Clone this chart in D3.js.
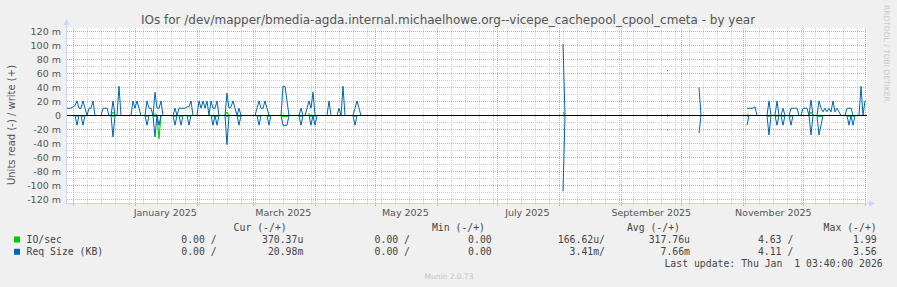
<!DOCTYPE html>
<html><head><meta charset="utf-8">
<script src="https://cdn.jsdelivr.net/npm/d3@7"></script>
<style>body{margin:0;background:#f0f0f0;}svg{display:block}</style>
</head><body><div id="chart"></div>
<script>
// ---------- data ----------
const DAY = 86400000;
const graphStart = Date.UTC(2024, 10, 27, 20, 24);
const graphDays = 400;
const titleText = "IOs for /dev/mapper/bmedia-agda.internal.michaelhowe.org--vicepe_cachepool_cpool_cmeta - by year";
const yAxisLabel = "Units read (-) / write (+)";
const yMajorTicks = [-120, -100, -80, -60, -40, -20, 0, 20, 40, 60, 80, 100, 120];
const yMinorTicks = [-110, -90, -70, -50, -30, -10, 10, 30, 50, 70, 90, 110];
const monthLabelDates = ["2025-01-01", "2025-03-01", "2025-05-01", "2025-07-01", "2025-09-01", "2025-11-01"];
const monthLabels = ["January 2025", "March 2025", "May 2025", "July 2025", "September 2025", "November 2025"];
const seriesNames = ["IO/sec", "Req Size (KB)"];
const seriesColors = ["#00cc00", "#0066b3"];
const legendHeaders = ["Cur (-/+)", "Min (-/+)", "Avg (-/+)", "Max (-/+)"];
const ioLegend = ["0.00 /", "370.37u", "0.00 /", "0.00", "166.62u/", "317.76u", "4.63 /", "1.99"];
const reqLegend = ["0.00 /", "20.98m", "0.00 /", "0.00", "3.41m/", "7.66m", "4.11 /", "3.56"];
const lastUpdate = "Last update: Thu Jan  1 03:40:00 2026";

// daily values in milli-units, per segment of continuous data (day offset from graph start)
const segmentStartDay = [0, 248, 300, 316, 340];
const reqWrite = [
  [10.4,10.4,10.4,12.5,14,20.8,10.4,10.4,20.8,10.4,
   0,10.4,10.4,20.8,0,0,0,0,10.4,10.4,
   10.4,0,0,20.8,0,0,41.7,0,0,0,
   0,0,0,20.8,10.4,20.8,10.4,0,0,0,
   20.8,10.4,10.4,0,33.3,10.4,10.4,20.8,0,0,
   0,0,0,0,10.4,0,10.4,10.4,10.4,10.4,
   12.5,12.5,20.8,0,0,0,20.8,10.4,20.8,10.4,
   20.8,0,20.8,10.4,10.4,20.8,0,0,0,0,
   32,10.4,12.5,20.8,10.4,0,10.4,0,0,0,
   0,0,0,0,0,10.4,20.8,10.4,10.4,20.8,
   10.4,0,0,0,0,0,0,0,41.7,41.7,
   20.8,0,0,0,0,0,0,10.4,0,0,
   10.4,20.8,10.4,33.3,0,0,0,0,0,0,
   0,20.8,0,0,0,0,10.4,0,41.7,0,
   0,0,0,0,10.4,20.8,10.4,0],
  [102, 0],
  [64],
  [40, 0],
  [10.4,10.4,10.4,10.4,12.5,0,0,0,0,0,
   0,20.8,0,0,0,20.8,0,0,10.4,0,
   0,0,10.4,10.4,10.4,10.4,0,0,10.4,10.4,
   10.4,0,22.2,0,0,0,20.8,10.4,5.2,10.4,
   5.2,10.4,5.2,20.8,5.2,10.4,5.2,0,0,0,
   10.4,10.4,10.4,0,0,0,0,41.7,0,20.8]
];
const reqRead = [
  [0,0,0,0,0,13.9,0,0,13.9,0,
   0,0,0,0,0,0,0,0,0,0,
   0,0,0,30.6,0,0,0,0,0,0,
   0,0,0,0,0,0,0,0,0,0,
   13.9,0,0,0,30.6,0,13.9,0,0,0,
   0,0,0,0,13.9,0,0,13.9,0,0,
   0,13.9,0,0,0,0,0,0,0,0,
   0,0,0,13.9,0,13.9,0,0,0,0,
   41.7,0,0,0,0,0,13.9,0,0,0,
   0,0,0,0,0,0,13.9,0,0,0,
   0,13.9,0,0,0,0,0,0,13.9,13.9,
   13.9,0,0,0,0,0,0,13.9,0,0,
   0,0,13.9,0,13.9,0,0,0,0,0,
   0,0,0,0,0,0,0,0,0,0,
   0,0,0,0,13.9,0,0,0],
  [108.3, 0],
  [20.8],
  [25, 0],
  [13.9,0,0,0,0,0,0,0,0,0,
   0,27.8,0,0,0,13.9,0,0,13.9,0,
   0,0,13.9,0,0,0,0,0,0,0,
   0,0,27.8,0,0,0,27.8,13.9,0,0,
   0,0,0,0,0,0,0,0,0,0,
   0,13.9,0,13.9,0,0,0,0,0,0]
];
const ioWrite = [
  [0,0,0,0,0,0,0,0,0,0,
   0,0,0,0,0,0,0,0,0,0,
   0,0,0,5,0,0,0,0,0,0,
   0,0,0,0,0,0,0,0,0,0,
   0,0,0,0,3,0,0,0,0,0,
   0,0,0,0,0,0,0,0,0,0,
   0,0,0,0,0,0,0,0,0,0,
   0,0,0,0,0,0,0,0,0,0,
   5,0,0,0,0,0,0,0,0,0,
   0,0,0,0,0,0,0,0,0,0,
   0,0,0,0,0,0,0,0,0,0,
   0,0,0,0,0,0,0,0,0,0,
   0,3,0,0,0,0,0,0,0,0,
   0,0,0,0,0,0,0,0,0,0,
   0,0,0,0,0,0,0,0],
  [5, 0],
  [1.0],
  [0, 0],
  [3,0,0,0,0,0,0,0,0,0,
   0,0,0,0,0,0,0,0,0,0,
   0,0,0,0,0,0,0,0,0,0,
   0,0,5,0,0,0,0,0,0,0,
   0,0,0,0,0,0,0,0,0,0,
   0,0,0,0,0,0,0,0,0,0]
];
const ioRead = [
  [0,0,0,0,0,1.4,0,0,1.4,0,
   0,0,0,0,0,0,0,0,0,0,
   0,0,0,1.4,0,0,0,0,0,0,
   0,0,0,0,0,0,0,0,0,0,
   1.4,0,0,0,1.4,0,33.3,0,0,0,
   0,0,0,0,1.4,0,0,1.4,0,0,
   0,1.4,0,0,0,0,0,0,0,0,
   0,0,0,1.4,0,1.4,0,0,0,0,
   1.4,0,0,0,0,0,1.4,0,0,0,
   0,0,0,0,0,0,1.4,0,0,0,
   0,1.4,0,0,0,0,0,0,1.4,1.4,
   1.4,0,0,0,0,0,0,1.4,0,0,
   0,0,1.4,0,1.4,0,0,0,0,0,
   0,0,0,0,0,0,0,0,0,0,
   0,0,0,0,1.4,0,0,0],
  [1.0, 0],
  [1.0],
  [1.0, 0],
  [1.4,0,0,0,0,0,0,0,0,0,
   0,1.4,0,0,0,1.4,0,0,1.4,0,
   0,0,1.4,0,0,0,0,0,0,0,
   0,0,0,0,0,0,1.4,1.4,0,0,
   0,0,0,0,0,0,0,0,0,0,
   0,1.4,0,1.4,0,0,0,0,0,0]
];

// ---------- chart ----------
const W = 897, H = 287;
const svg = d3.select("#chart").append("svg").attr("width", W).attr("height", H);
svg.append("rect").attr("width", W).attr("height", H).attr("fill", "#f0f0f0");

const x = d3.scaleUtc().domain([graphStart, graphStart + graphDays * DAY]).range([67, 867]);
const y = d3.scaleLinear().domain([-125, 125]).range([203, 28]);
const [px0, px1] = x.range();
const [py0, py1] = y.range(); // bottom, top

svg.append("rect").attr("x", px0).attr("y", py1).attr("width", px1 - px0).attr("height", py0 - py1).attr("fill", "#ffffff");

const snap = v => Math.round(v - 0.5) + 0.5;
const minorCol = "#cfcfcf", majorCol = "#e3a6a6";

// horizontal grid
svg.append("g").selectAll("line").data(yMinorTicks).join("line")
  .attr("x1", px0).attr("x2", px1).attr("y1", d => snap(y(d))).attr("y2", d => snap(y(d)))
  .attr("stroke", minorCol).attr("stroke-dasharray", "1,1");
svg.append("g").selectAll("line").data(yMajorTicks).join("line")
  .attr("x1", px0).attr("x2", px1).attr("y1", d => snap(y(d))).attr("y2", d => snap(y(d)))
  .attr("stroke", majorCol).attr("stroke-dasharray", "1,1");

// vertical grid
const [d0, d1] = x.domain();
const weeks = d3.utcSunday.range(d0, d1);
const months = d3.utcMonth.range(d0, d1);
svg.append("g").selectAll("line").data(weeks).join("line")
  .attr("x1", d => snap(x(d))).attr("x2", d => snap(x(d))).attr("y1", py1).attr("y2", py0)
  .attr("stroke", minorCol).attr("stroke-dasharray", "1,1");
svg.append("g").selectAll("line").data(months).join("line")
  .attr("x1", d => snap(x(d))).attr("x2", d => snap(x(d))).attr("y1", py1).attr("y2", py0)
  .attr("stroke", majorCol).attr("stroke-dasharray", "1,1");
// ticks under axis
svg.append("g").selectAll("line").data(weeks).join("line")
  .attr("x1", d => snap(x(d))).attr("x2", d => snap(x(d))).attr("y1", py0).attr("y2", py0 + 2)
  .attr("stroke", "#c8c8c8");
svg.append("g").selectAll("line").data(months).join("line")
  .attr("x1", d => snap(x(d))).attr("x2", d => snap(x(d))).attr("y1", py0).attr("y2", py0 + 3)
  .attr("stroke", "#e3aaaa");

// series lines: one point per daily sample; a lone sample is held for half a day
function points(seg, vals, sign) {
  const pts = vals.map((v, i) => ({t: graphStart + (segmentStartDay[seg] + i) * DAY, v: sign * v}));
  if (pts.length === 1) pts.push({t: pts[0].t + DAY / 2, v: pts[0].v});
  return pts;
}
const line = d3.line().x(p => x(p.t)).y(p => y(p.v));
const gData = svg.append("g").attr("fill", "none").attr("stroke-width", 1);
[[ioWrite, ioRead, seriesColors[0]], [reqWrite, reqRead, seriesColors[1]]].forEach(([wr, rd, col]) => {
  segmentStartDay.forEach((s, k) => {
    gData.append("path").attr("d", line(points(k, wr[k], 1))).attr("stroke", col);
    gData.append("path").attr("d", line(points(k, rd[k], -1))).attr("stroke", col);
  });
});

// zero line
svg.append("line").attr("x1", px0).attr("x2", px1).attr("y1", snap(y(0))).attr("y2", snap(y(0)))
  .attr("stroke", "#000").attr("stroke-width", 1);

// axes
const axisCol = "#cdd4f6";
svg.append("line").attr("x1", px0 - 0.5).attr("x2", px0 - 0.5).attr("y1", py0 + 1).attr("y2", py1 - 4).attr("stroke", axisCol);
svg.append("line").attr("x1", px0 - 1).attr("x2", px1 + 3).attr("y1", py0 + 0.5).attr("y2", py0 + 0.5).attr("stroke", axisCol);
svg.append("path").attr("d", `M${px0 - 3.5},${py1 - 3}L${px0 - 0.5},${py1 - 9}L${px0 + 2.5},${py1 - 3}Z`).attr("fill", axisCol);
svg.append("path").attr("d", `M${px1 + 2},${py0 - 2.5}L${px1 + 8},${py0 + 0.5}L${px1 + 2},${py0 + 3.5}Z`).attr("fill", axisCol);

// y tick labels
const sans = "'DejaVu Sans', sans-serif", mono = "'DejaVu Sans Mono', monospace";
svg.append("g").selectAll("text").data(yMajorTicks).join("text")
  .attr("x", 61).attr("y", d => y(d) + 3.5).attr("text-anchor", "end")
  .attr("font-family", sans).attr("font-size", 9.5).attr("fill", "#555")
  .text(d => d === 0 ? "0" : `${d} m`);

// month labels
svg.append("g").selectAll("text").data(monthLabelDates).join("text")
  .attr("x", d => x(d3.utcDay.offset(new Date(d + "T00:00:00Z"), 15))).attr("y", 215.5)
  .attr("text-anchor", "middle").attr("font-family", sans).attr("font-size", 9.5).attr("fill", "#555")
  .text((d, i) => monthLabels[i]);

// title
svg.append("text").attr("x", 448).attr("y", 24).attr("text-anchor", "middle")
  .attr("font-family", sans).attr("font-size", 12).attr("fill", "#555").text(titleText);

// y axis label
svg.append("text").attr("transform", "translate(15,125) rotate(-90)").attr("text-anchor", "middle")
  .attr("font-family", sans).attr("font-size", 10).attr("fill", "#555").text(yAxisLabel);

// watermark
svg.append("text").attr("transform", "translate(884,5) rotate(90)").attr("text-anchor", "start")
  .attr("font-family", sans).attr("font-size", 7.5).attr("fill", "#c8c8c8").text("RRDTOOL / TOBI OETIKER");

// legend
const lg = svg.append("g").attr("font-family", mono).attr("font-size", 9.8).attr("fill", "#444")
  .style("white-space", "pre");
const headerX = [286.7, 485, 680, 876.7];
legendHeaders.forEach((h, i) => lg.append("text").attr("x", headerX[i]).attr("y", 230.5).attr("text-anchor", "end").text(h));
const valueX = [216.7, 303.3, 410, 491.7, 605, 690, 793.3, 876.7];
[ioLegend, reqLegend].forEach((vals, r) => {
  const yy = 242.8 + r * 12.3;
  lg.append("rect").attr("x", 14).attr("y", yy - 6.3).attr("width", 6).attr("height", 6).attr("fill", seriesColors[r]);
  lg.append("text").attr("x", 26.5).attr("y", yy).text(seriesNames[r]);
  vals.forEach((v, i) => lg.append("text").attr("x", valueX[i]).attr("y", yy).attr("text-anchor", "end").text(v));
});
lg.append("text").attr("x", 882.7).attr("y", 267.2).attr("text-anchor", "end").attr("xml:space", "preserve").text(lastUpdate);

svg.append("text").attr("x", 449).attr("y", 279).attr("text-anchor", "middle")
  .attr("font-family", sans).attr("font-size", 7.5).attr("fill", "#c4c4c4").text("Munin 2.0.73");
</script></body></html>
